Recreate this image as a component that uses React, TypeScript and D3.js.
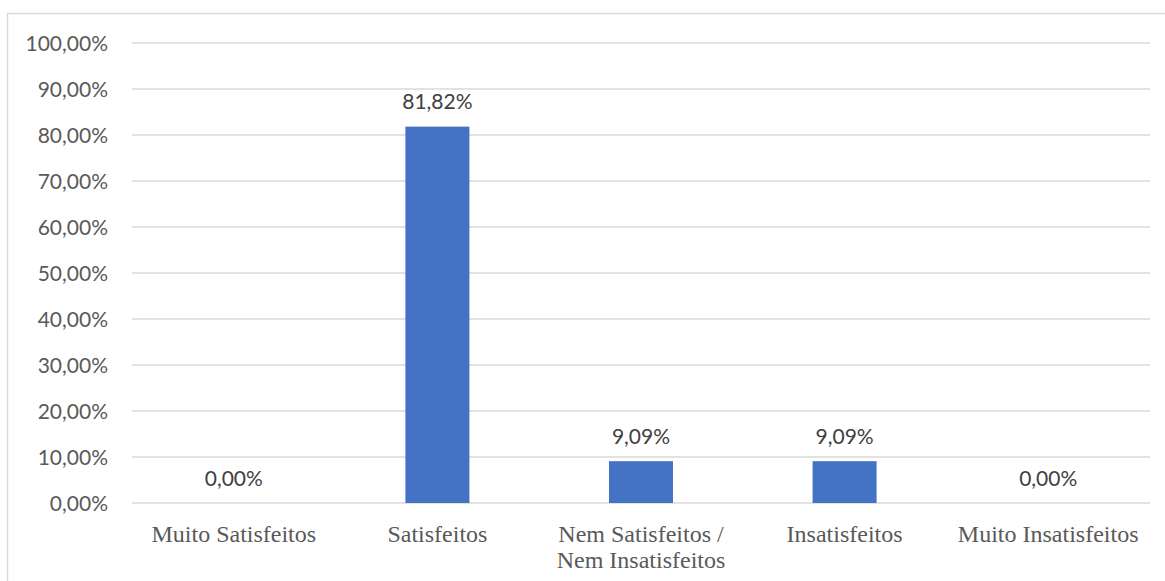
import React from "react";
import * as d3 from "d3";

const categories: string[][] = [
  ["Muito Satisfeitos"],
  ["Satisfeitos"],
  ["Nem Satisfeitos /", "Nem Insatisfeitos"],
  ["Insatisfeitos"],
  ["Muito Insatisfeitos"],
];
const values: number[] = [0, 81.82, 9.09, 9.09, 0];
const yTicks: number[] = [0, 10, 20, 30, 40, 50, 60, 70, 80, 90, 100];

const W = 1165;
const H = 581;
const plot = { left: 132, right: 1150, top: 43, bottom: 503 };
const barWidth = 64;

const fmt = (v: number) => v.toFixed(2).replace(".", ",") + "%";

export default function App() {
  const x = d3
    .scaleBand<number>()
    .domain(d3.range(categories.length))
    .range([plot.left, plot.right]);
  const y = d3.scaleLinear().domain([0, 100]).range([plot.bottom, plot.top]);

  const sans = "Lato, 'Open Sans', sans-serif";
  const serif = "'Liberation Serif', 'DejaVu Serif', serif";
  const textColor = "#595959";

  return (
    <svg
      width={W}
      height={H}
      style={{ position: "absolute", left: 0, top: 0, background: "#fff" }}
    >
      <rect x={7.5} y={13.5} width={W + 20} height={H + 20} fill="#fff" stroke="#d9d9d9" strokeWidth={1.5} />
      {yTicks.map((t) => (
        <g key={t}>
          <line
            x1={plot.left}
            x2={plot.right}
            y1={y(t)}
            y2={y(t)}
            stroke="#d9d9d9"
            strokeWidth={1.5}
          />
          <text
            x={108}
            y={y(t) + 7.7}
            textAnchor="end"
            fontFamily={sans}
            fontSize={21}
            fill={textColor}
          >
            {fmt(t)}
          </text>
        </g>
      ))}
      {values.map((v, i) => {
        const cx = (x(i) as number) + x.bandwidth() / 2;
        return (
          <g key={i}>
            {v > 0 && (
              <rect
                x={cx - barWidth / 2}
                y={y(v)}
                width={barWidth}
                height={y(0) - y(v)}
                fill="#4472c4"
              />
            )}
            <text
              x={cx}
              y={y(v) - 17.3}
              textAnchor="middle"
              fontFamily={sans}
              fontSize={21}
              fill="#404040"
            >
              {fmt(v)}
            </text>
            {categories[i].map((line, j) => (
              <text
                key={j}
                x={cx}
                y={542 + j * 26}
                textAnchor="middle"
                fontFamily={serif}
                fontSize={24}
                fill={textColor}
              >
                {line}
              </text>
            ))}
          </g>
        );
      })}
    </svg>
  );
}
